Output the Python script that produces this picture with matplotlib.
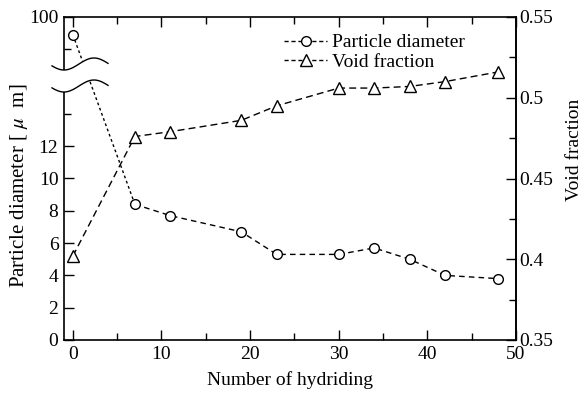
import numpy as np
import matplotlib
matplotlib.use('Agg')
import matplotlib.pyplot as plt
from matplotlib.patches import Polygon
from matplotlib.lines import Line2D

plt.rcParams['font.family'] = 'Liberation Serif'
plt.rcParams['mathtext.fontset'] = 'stix'
plt.rcParams['font.size'] = 14

# datos
ciclos = [0, 7, 11, 19, 23, 30, 34, 38, 42, 48]
diametro = [89, 8.4, 7.7, 6.7, 5.3, 5.3, 5.7, 5.0, 4.0, 3.8]
porosidad = [0.402, 0.476, 0.479, 0.486, 0.495, 0.506, 0.506, 0.507, 0.510, 0.516]

x_ticks = [0, 10, 20, 30, 40, 50]
y_ticks = [0, 2, 4, 6, 8, 10, 12, 100]
y2_ticks = [0.35, 0.4, 0.45, 0.5, 0.55]


# eje cortado: 0-16 normal, 16-80 comprimido, 80-100 arriba
def fwd(v):
    v = np.asarray(v, dtype=float)
    return np.where(v <= 16, v, np.where(v <= 80, 16 + (v - 16) * 2 / 64, 18 + (v - 80) * 2 / 20))


def inv(d):
    d = np.asarray(d, dtype=float)
    return np.where(d <= 16, d, np.where(d <= 18, 16 + (d - 16) * 32, 80 + (d - 18) * 10))


W, H = 586, 393
fig = plt.figure(figsize=(W / 100, H / 100), dpi=100)
L, R, T, B = 64, 516, 17, 340
ax = fig.add_axes([L / W, 1 - B / H, (R - L) / W, (B - T) / H])
ax2 = ax.twinx()

ax.set_yscale('function', functions=(fwd, inv))
ax.set_xlim(-1, 50)
ax.set_ylim(0, 100)
ax2.set_ylim(0.35, 0.55)

# diametro: primer tramo punteado, resto a trazos
ax.plot(ciclos[:2], diametro[:2], color='k', lw=1, ls=(0, (2, 2)))
ax.plot(ciclos[1:], diametro[1:], color='k', lw=1, ls=(0, (4, 3)))
ax.plot(ciclos, diametro, 'o', mfc='white', mec='k', ms=7, mew=1)
ax2.plot(ciclos, porosidad, color='k', lw=1, ls=(0, (5, 3)),
         marker='^', mfc='white', mec='k', ms=8, mew=1)

ax.set_xticks(x_ticks)
ax.set_xticks([5, 15, 25, 35, 45], minor=True)
ax.set_yticks(y_ticks)
ax.set_yticklabels([str(t) for t in y_ticks])
ax.set_yticks([14, 80], minor=True)
ax.yaxis.set_minor_formatter(plt.NullFormatter())
ax2.set_yticks(y2_ticks)
ax2.set_yticklabels(['0.35', '0.4', '0.45', '0.5', '0.55'])
ax2.set_yticks([0.375, 0.425, 0.475, 0.525], minor=True)

ax.tick_params(which='both', direction='in', top=True, right=False, width=1)
ax.tick_params(which='major', length=7, pad=4)
ax.tick_params(which='minor', length=5)
ax2.tick_params(which='both', direction='in', width=1, pad=2)
ax2.tick_params(which='major', length=7)
ax2.tick_params(which='minor', length=5)
for s in ['left', 'top', 'bottom']:
    ax2.spines[s].set_visible(False)
for a in (ax, ax2):
    for s in a.spines.values():
        s.set_linewidth(1.2)

ax.set_xlabel('Number of hydriding', labelpad=6)
ax.set_ylabel('Particle diameter [ $\\mu$  m]', fontsize=15)
ax.yaxis.set_label_coords(-0.075, 0.477)
ax2.set_ylabel('Void fraction')
ax2.yaxis.set_label_coords(1.11, 0.59)

h = [Line2D([], [], color='k', lw=1, ls=(0, (3, 2)), marker='o', mfc='white', mec='k', ms=7),
     Line2D([], [], color='k', lw=1, ls=(0, (3, 2)), marker='^', mfc='white', mec='k', ms=8)]
ax2.legend(h, ['Particle diameter', 'Void fraction'], loc='upper left',
           bbox_to_anchor=(0.47, 0.972), frameon=False, handlelength=2.2,
           handletextpad=0.25, labelspacing=0.1, borderaxespad=0)

# simbolo de corte del eje (dos ondas)
xs = np.linspace(52, 108, 80)
onda = 6 * np.cos(2 * np.pi * (xs - 64) / 60)
y_sup = 64 + onda
y_inf = 86 + onda


def figc(px, py):
    return np.column_stack([px / W, 1 - py / H])


relleno = np.vstack([figc(xs, y_sup), figc(xs[::-1], y_inf[::-1])])
fig.add_artist(Polygon(relleno, closed=True, facecolor='white', edgecolor='none',
                       transform=fig.transFigure, zorder=5))
for yy in (y_sup, y_inf):
    p = figc(xs, yy)
    fig.add_artist(Line2D(p[:, 0], p[:, 1], color='k', lw=1, transform=fig.transFigure, zorder=6))

fig.savefig('out.png', dpi=100)
